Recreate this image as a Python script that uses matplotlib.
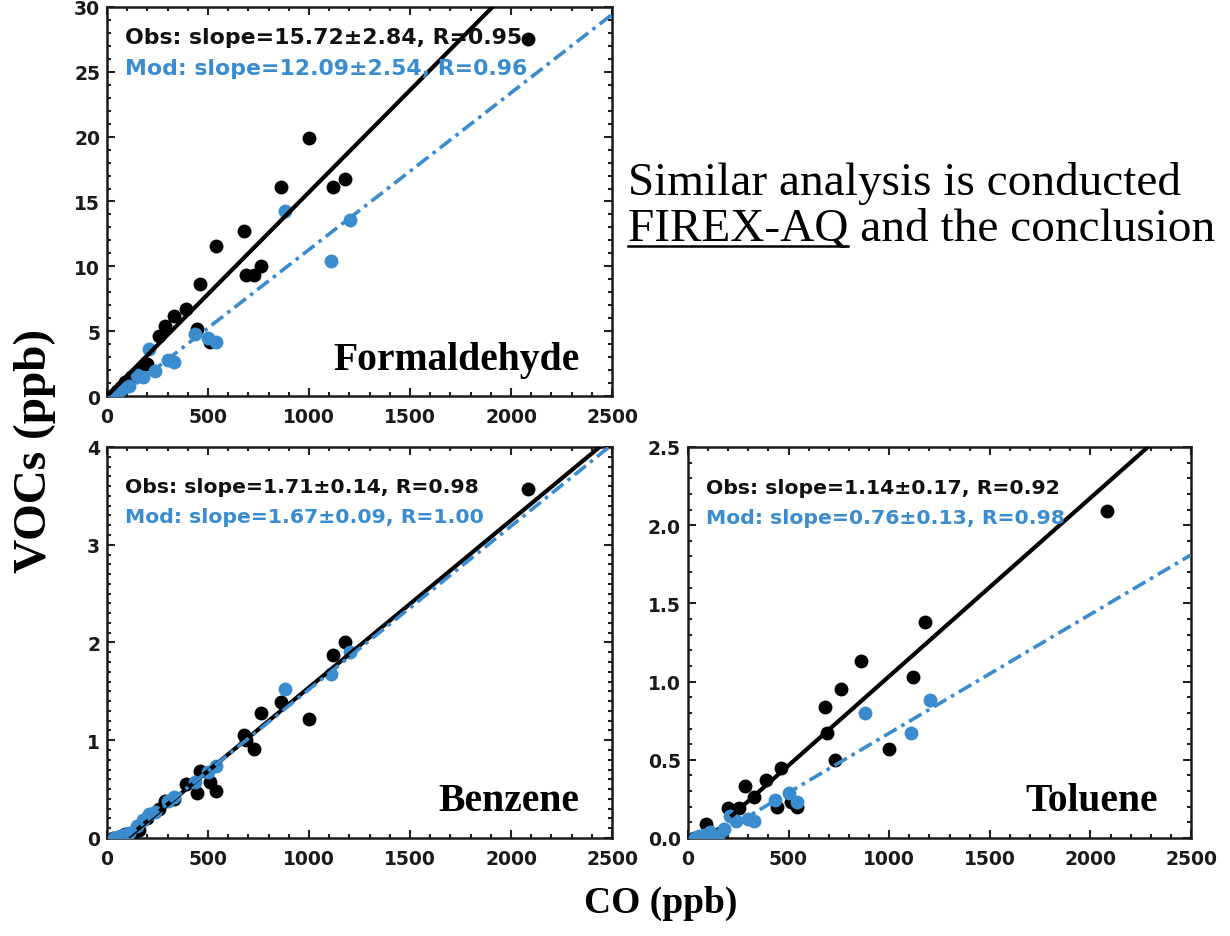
import matplotlib
matplotlib.use("Agg")
import matplotlib.pyplot as plt
import numpy as np
from matplotlib.ticker import MultipleLocator, FormatStrFormatter
from matplotlib.lines import Line2D

# ---------------- data ----------------
species = ["Formaldehyde", "Benzene", "Toluene"]

obs_co = [2085, 1180, 1120, 1000, 860, 760, 730, 680, 690, 540, 510, 460, 445,
          390, 330, 285, 255, 200, 160, 120, 90, 70, 50, 30]
obs_hcho = [27.5, 16.7, 16.1, 19.9, 16.1, 10.0, 9.3, 12.7, 9.3, 11.6, 4.2, 8.6, 5.2,
            6.7, 6.2, 5.4, 4.6, 2.5, 1.9, 1.5, 1.1, 0.7, 0.4, 0.1]
obs_benz = [3.57, 2.01, 1.87, 1.22, 1.39, 1.28, 0.91, 1.05, 1.0, 0.48, 0.57, 0.69, 0.46,
            0.55, 0.40, 0.38, 0.30, 0.20, 0.08, 0.0, 0.04, 0.02, 0.0, 0.0]
obs_tol = [2.09, 1.38, 1.03, 0.57, 1.13, 0.95, 0.50, 0.84, 0.67, 0.20, 0.23, 0.45, 0.20,
           0.37, 0.26, 0.33, 0.19, 0.19, 0.03, 0.02, 0.09, 0.0, 0.0, 0.0]

mod_co = [1205, 1108, 880, 540, 500, 435, 330, 300, 240, 210, 180, 150, 110, 80, 55, 35]
mod_hcho = [13.6, 10.4, 14.3, 4.2, 4.5, 4.8, 2.6, 2.8, 1.9, 3.6, 1.5, 1.6, 0.8, 0.6, 0.3, 0.1]
mod_benz = [1.90, 1.68, 1.52, 0.74, 0.68, 0.57, 0.42, 0.38, 0.27, 0.25, 0.18, 0.12, 0.05, 0.03, 0.01, 0.0]
mod_tol = [0.88, 0.67, 0.80, 0.23, 0.29, 0.24, 0.11, 0.12, 0.11, 0.14, 0.06, 0.01, 0.04, 0.02, 0.01, 0.0]

# regression lines (slope per 1000 ppb CO, intercept in ppb, x start of drawn line)
obs_slope = [15.72, 1.71, 1.14]
obs_icpt = [0.0, -0.17, -0.106]
obs_xstart = [0, 100, 220]
mod_slope = [12.09, 1.67, 0.76]
mod_icpt = [-0.8, -0.15, -0.09]
mod_xstart = [66, 90, 110]

obs_text = ["Obs: slope=15.72\u00b12.84, R=0.95",
            "Obs: slope=1.71\u00b10.14, R=0.98",
            "Obs: slope=1.14\u00b10.17, R=0.92"]
mod_text = ["Mod: slope=12.09\u00b12.54, R=0.96",
            "Mod: slope=1.67\u00b10.09, R=1.00",
            "Mod: slope=0.76\u00b10.13, R=0.98"]

ymax = [30, 4, 2.5]
ymajor = [5, 1, 0.5]
yminor = [1, 0.1, 0.1]
yfmt = ["%d", "%d", "%.1f"]

xmax = 2500
xmajor = 500
xminor = 100

# ---------------- style ----------------
BLUE = "#3a8ccf"
TICKFONT = dict(family="DejaVu Sans", weight="bold", size=13.5)
SERIF = "Liberation Serif"

fig = plt.figure(figsize=(12.30, 9.37), dpi=100)

positions = [
    [0.0870, 0.5763, 0.4106, 0.4152],
    [0.0870, 0.1046, 0.4106, 0.4173],
    [0.5593, 0.1046, 0.4090, 0.4173],
]
obs_ys = [obs_hcho, obs_benz, obs_tol]
mod_ys = [mod_hcho, mod_benz, mod_tol]
txt_y = [(0.923, 0.843), (0.900, 0.821), (0.897, 0.820)]
txt_size = [15.8, 14.7, 14.7]

for i in range(3):
    ax = fig.add_axes(positions[i])
    ax.scatter(obs_co, obs_ys[i], s=100, color="black", zorder=3, linewidths=0)
    ax.scatter(mod_co, mod_ys[i], s=100, color=BLUE, zorder=3, linewidths=0)

    xo = np.array([obs_xstart[i], xmax])
    ax.plot(xo, obs_slope[i] * xo / 1000.0 + obs_icpt[i], color="black", lw=3.0, zorder=4)
    xm = np.array([mod_xstart[i], xmax])
    ax.plot(xm, mod_slope[i] * xm / 1000.0 + mod_icpt[i], color=BLUE, lw=2.6,
            linestyle=(0, (4, 1.5, 1, 1.5)), zorder=5)

    ax.set_xlim(0, xmax)
    ax.set_ylim(0, ymax[i])
    ax.xaxis.set_major_locator(MultipleLocator(xmajor))
    ax.xaxis.set_minor_locator(MultipleLocator(xminor))
    ax.yaxis.set_major_locator(MultipleLocator(ymajor[i]))
    ax.yaxis.set_minor_locator(MultipleLocator(yminor[i]))
    ax.yaxis.set_major_formatter(FormatStrFormatter(yfmt[i]))
    ax.tick_params(which="both", direction="in", top=True, right=True, width=1.5, color="#222222")
    ax.tick_params(which="major", length=6)
    ax.tick_params(which="minor", length=3)
    ax.tick_params(axis="x", pad=8)
    ax.tick_params(axis="y", pad=5)
    for lab in ax.get_xticklabels() + ax.get_yticklabels():
        lab.set_fontfamily(TICKFONT["family"])
        lab.set_fontweight(TICKFONT["weight"])
        lab.set_fontsize(TICKFONT["size"])
        lab.set_color("#1a1a1a")
    for sp in ax.spines.values():
        sp.set_linewidth(1.8)
        sp.set_color("#1a1a1a")

    ax.text(0.035, txt_y[i][0], obs_text[i], transform=ax.transAxes, color="#111111",
            fontsize=txt_size[i], fontweight="bold", family="DejaVu Sans", va="center", ha="left", zorder=6)
    ax.text(0.035, txt_y[i][1], mod_text[i], transform=ax.transAxes, color=BLUE,
            fontsize=txt_size[i], fontweight="bold", family="DejaVu Sans", va="center", ha="left", zorder=6)
    ax.text(0.935, 0.095, species[i], transform=ax.transAxes, color="black",
            fontsize=28.5, fontweight="bold", family=SERIF, va="center", ha="right", zorder=6)

fig.text(0.028, 0.519, "VOCs (ppb)", rotation=90, ha="center", va="center",
         fontsize=34, fontweight="bold", family=SERIF)
fig.text(0.537, 0.036, "CO (ppb)", ha="center", va="center",
         fontsize=27, fontweight="bold", family=SERIF)

# paragraph text next to the top panel
line1 = "Similar analysis is conducted"
line2_u = "FIREX-AQ"
line2 = "FIREX-AQ and the conclusion"
x0, y1, y2 = 0.5106, 0.792, 0.743
PFS = 34
fig.text(x0, y1, line1, fontsize=PFS, family=SERIF, ha="left", va="baseline")
t2 = fig.text(x0, y2, line2, fontsize=PFS, family=SERIF, ha="left", va="baseline")
tmp = fig.text(x0, y2, line2_u, fontsize=PFS, family=SERIF, ha="left", va="baseline")
fig.canvas.draw()
bb = tmp.get_window_extent(renderer=fig.canvas.get_renderer())
tmp.remove()
W, H = fig.bbox.width, fig.bbox.height
yu = y2 - 6.0 / H
fig.add_artist(Line2D([bb.x0 / W, bb.x1 / W], [yu, yu], color="black", lw=1.8,
                      transform=fig.transFigure))

fig.savefig("out.png", dpi=100)
